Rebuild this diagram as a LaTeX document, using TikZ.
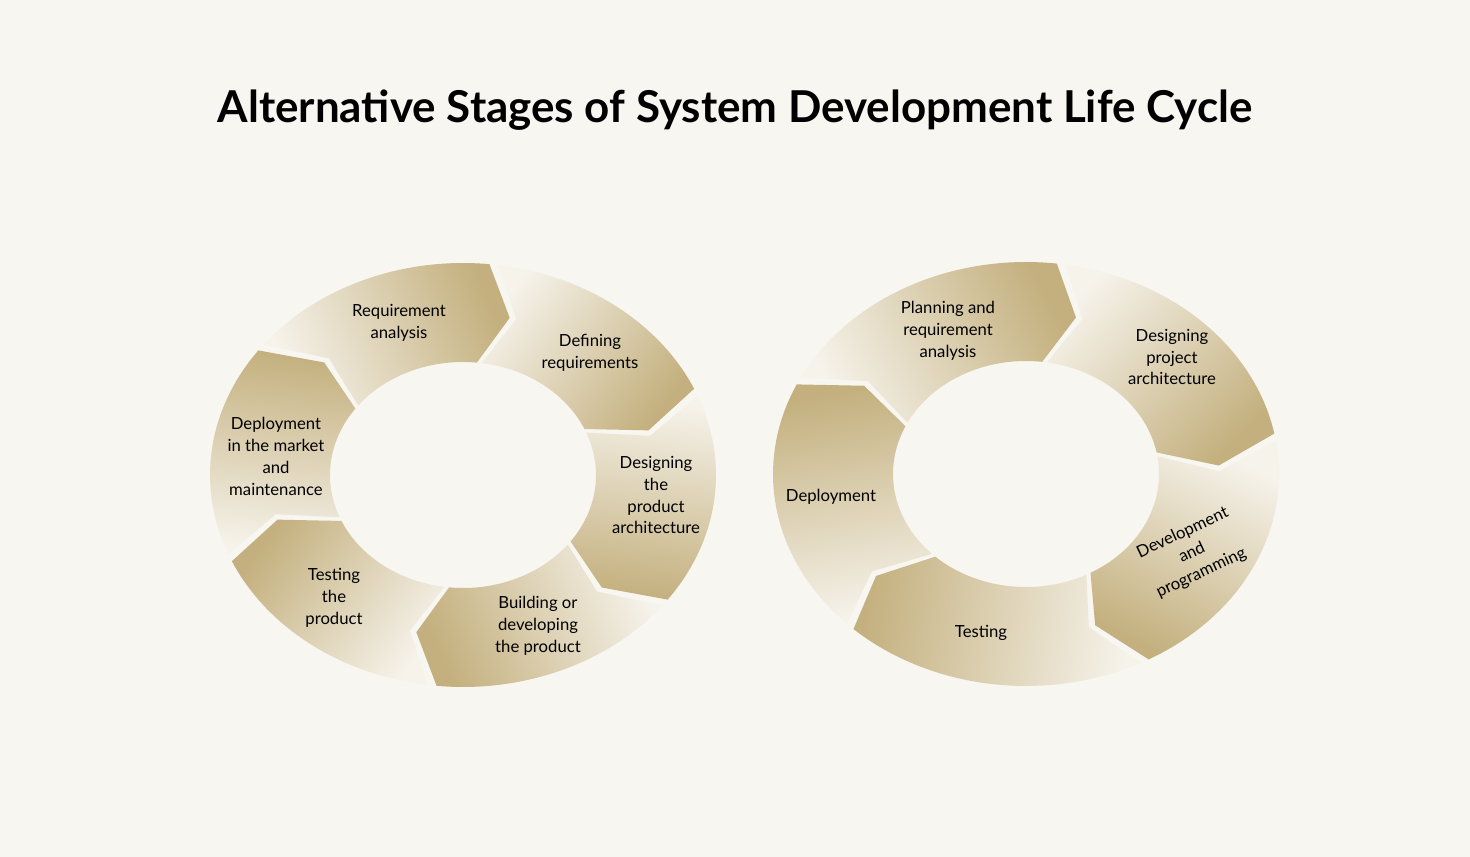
\documentclass[tikz,border=0pt]{standalone}
\usepackage{fontspec}
\setmainfont{Lato}
\definecolor{bgpaper}{HTML}{F7F6F1}
\definecolor{stagegold}{HTML}{C4B07E}
\definecolor{stagelight}{HTML}{F6F3EB}
\tikzset{
  stagefill/.style={top color=stagegold, bottom color=stagelight},
  stagetext/.style={align=center, font=\fontsize{9.5}{12.5}\selectfont, text=black}
}
% one chevron stage of a ring: centre x, centre y, tail angle, head angle
\newcommand{\stage}[4]{%
  \pgfmathsetmacro\ta{#3-1}\pgfmathsetmacro\tb{#4+1}%
  \pgfmathsetmacro\tm{(#3+#4)/2-180}%
  \pgfmathsetmacro\tp{#4+1-8}\pgfmathsetmacro\tn{#3-1-8}%
  \path[stagefill, shading angle=\tm]
    plot[domain=\ta:\tb, samples=40] ({#1+253*cos(\x)},{#2-212*sin(\x)})
    -- ({#1+193*cos(\tp)},{#2-162*sin(\tp)})
    -- plot[domain=\tb:\ta, samples=40] ({#1+133*cos(\x)},{#2-113*sin(\x)})
    -- ({#1+193*cos(\tn)},{#2-162*sin(\tn)}) -- cycle;
}
\begin{document}
\begin{tikzpicture}[x=0.02cm, y=-0.02cm]
  \fill[bgpaper] (0,0) rectangle (1470,857);
  \node[font=\fontsize{25}{29}\selectfont\bfseries] (title) at (735,110)
    {Alternative Stages of System Development Life Cycle};

  % left cycle
  \foreach \k in {0,...,5}
    \stage{463}{475}{83-60*\k}{23-60*\k};
  \node[stagetext] (req) at (399,323) {Requirement\\analysis};
  \node[stagetext] (def) at (590,353) {Defining\\requirements};
  \node[stagetext] (des) at (656,495) {Designing\\the\\product\\architecture};
  \node[stagetext] (bld) at (538,626) {Building or\\developing\\the product};
  \node[stagetext] (tst) at (334,598) {Testing\\the\\product};
  \node[stagetext] (dep) at (276,456) {Deployment\\in the market\\and\\maintenance};

  % right cycle
  \foreach \k in {0,...,4}
    \stage{1026}{474}{82-72*\k}{10-72*\k};
  \node[stagetext] (plan) at (948,331) {Planning and\\requirement\\analysis};
  \node[stagetext] (arch) at (1172,357) {Designing\\project\\architecture};
  \node[stagetext, rotate=25] (prog) at (1192,553) {Development\\and\\programming};
  \node[stagetext] (test) at (981,633) {Testing};
  \node[stagetext] (depl) at (831,497) {Deployment};
\end{tikzpicture}
\end{document}
